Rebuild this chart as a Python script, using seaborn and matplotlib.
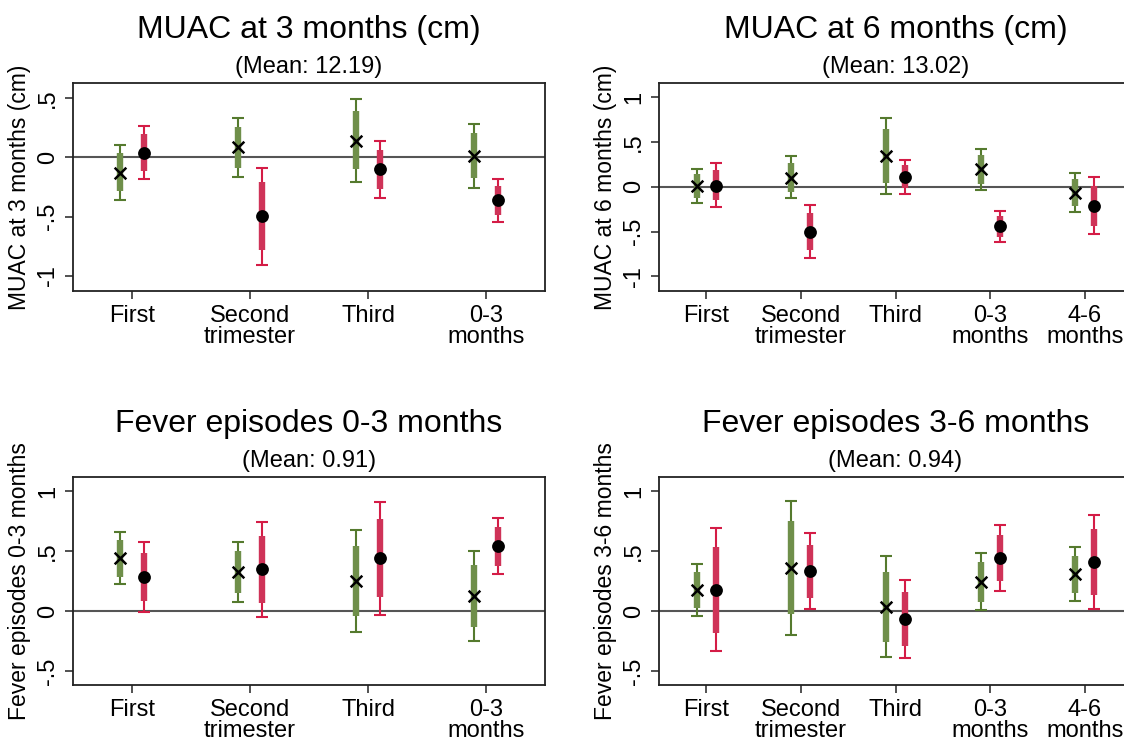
import numpy as np
import pandas as pd
import matplotlib
matplotlib.use("Agg")
import matplotlib.pyplot as plt
import seaborn as sns

# ─────────────────────────────────────────
# DATA (point estimate, thick interval, thin interval)
# ─────────────────────────────────────────

cats_4 = ["First", "Second\ntrimester", "Third", "0-3\nmonths"]
cats_5 = ["First", "Second\ntrimester", "Third", "0-3\nmonths", "4-6\nmonths"]

# MUAC at 3 months
m3_green     = [-0.127, 0.085, 0.141, 0.011]
m3_green_lo1 = [-0.285, -0.093, -0.101, -0.172]
m3_green_hi1 = [0.034, 0.254, 0.389, 0.203]
m3_green_lo2 = [-0.355, -0.163, -0.206, -0.254]
m3_green_hi2 = [0.104, 0.330, 0.493, 0.285]
m3_red       = [0.039, -0.493, -0.101, -0.361]
m3_red_lo1   = [-0.118, -0.783, -0.270, -0.487]
m3_red_hi1   = [0.197, -0.211, 0.062, -0.237]
m3_red_lo2   = [-0.186, -0.904, -0.346, -0.544]
m3_red_hi2   = [0.268, -0.085, 0.138, -0.180]

# MUAC at 6 months
m6_green     = [0.004, 0.101, 0.343, 0.194, -0.067]
m6_green_lo1 = [-0.127, -0.056, 0.048, 0.037, -0.212]
m6_green_hi1 = [0.142, 0.264, 0.641, 0.350, 0.086]
m6_green_lo2 = [-0.179, -0.130, -0.082, -0.034, -0.279]
m6_green_hi2 = [0.197, 0.339, 0.771, 0.417, 0.149]
m6_red       = [0.015, -0.499, 0.112, -0.436, -0.209]
m6_red_lo1   = [-0.149, -0.704, -0.015, -0.555, -0.432]
m6_red_hi1   = [0.186, -0.294, 0.242, -0.320, 0.011]
m6_red_lo2   = [-0.227, -0.793, -0.078, -0.611, -0.529]
m6_red_hi2   = [0.261, -0.205, 0.298, -0.264, 0.108]

# Fever episodes 0-3 months
f3_green     = [0.440, 0.326, 0.251, 0.125]
f3_green_lo1 = [0.287, 0.153, -0.042, -0.136]
f3_green_hi1 = [0.591, 0.504, 0.546, 0.387]
f3_green_lo2 = [0.223, 0.075, -0.173, -0.248]
f3_green_hi2 = [0.657, 0.579, 0.677, 0.504]
f3_red       = [0.284, 0.348, 0.440, 0.543]
f3_red_lo1   = [0.081, 0.070, 0.114, 0.379]
f3_red_hi1   = [0.487, 0.624, 0.766, 0.705]
f3_red_lo2   = [-0.011, -0.050, -0.031, 0.306]
f3_red_hi2   = [0.579, 0.747, 0.911, 0.780]

# Fever episodes 3-6 months
f6_green     = [0.178, 0.359, 0.033, 0.242, 0.309]
f6_green_lo1 = [0.028, -0.028, -0.262, 0.075, 0.153]
f6_green_hi1 = [0.329, 0.749, 0.329, 0.407, 0.462]
f6_green_lo2 = [-0.042, -0.198, -0.387, 0.006, 0.086]
f6_green_hi2 = [0.390, 0.919, 0.460, 0.482, 0.535]
f6_red       = [0.178, 0.331, -0.067, 0.446, 0.409]
f6_red_lo1   = [-0.184, 0.111, -0.295, 0.253, 0.134]
f6_red_hi1   = [0.538, 0.554, 0.156, 0.632, 0.682]
f6_red_lo2   = [-0.337, 0.017, -0.393, 0.170, 0.017]
f6_red_hi2   = [0.696, 0.655, 0.259, 0.716, 0.805]

panels = [
    dict(title="MUAC at 3 months (cm)", sub="(Mean: 12.19)", ylabel="MUAC at 3 months (cm)",
         cats=cats_4, yticks=[-1, -0.5, 0, 0.5], ylim=(-1.124, 0.628),
         g=(m3_green, m3_green_lo1, m3_green_hi1, m3_green_lo2, m3_green_hi2),
         r=(m3_red, m3_red_lo1, m3_red_hi1, m3_red_lo2, m3_red_hi2)),
    dict(title="MUAC at 6 months (cm)", sub="(Mean: 13.02)", ylabel="MUAC at 6 months (cm)",
         cats=cats_5, yticks=[-1, -0.5, 0, 0.5, 1], ylim=(-1.159, 1.159),
         g=(m6_green, m6_green_lo1, m6_green_hi1, m6_green_lo2, m6_green_hi2),
         r=(m6_red, m6_red_lo1, m6_red_hi1, m6_red_lo2, m6_red_hi2)),
    dict(title="Fever episodes 0-3 months", sub="(Mean: 0.91)", ylabel="Fever episodes 0-3 months",
         cats=cats_4, yticks=[-0.5, 0, 0.5, 1], ylim=(-0.618, 1.122),
         g=(f3_green, f3_green_lo1, f3_green_hi1, f3_green_lo2, f3_green_hi2),
         r=(f3_red, f3_red_lo1, f3_red_hi1, f3_red_lo2, f3_red_hi2)),
    dict(title="Fever episodes 3-6 months", sub="(Mean: 0.94)", ylabel="Fever episodes 3-6 months",
         cats=cats_5, yticks=[-0.5, 0, 0.5, 1], ylim=(-0.618, 1.122),
         g=(f6_green, f6_green_lo1, f6_green_hi1, f6_green_lo2, f6_green_hi2),
         r=(f6_red, f6_red_lo1, f6_red_hi1, f6_red_lo2, f6_red_hi2)),
]

GREEN_THICK, GREEN_THIN = "#6f8f4a", "#557a2e"
RED_THICK, RED_THIN = "#cf3358", "#d41c46"

def fmt_tick(v):
    if v == 0:
        return "0"
    s = f"{v:g}"
    return s.replace("0.", ".")

# ─────────────────────────────────────────
# FIGURE
# ─────────────────────────────────────────

sns.set_theme(style="ticks")
plt.rcParams["font.family"] = ["Liberation Sans", "DejaVu Sans"]
plt.rcParams.update({"text.color": "black", "axes.labelcolor": "black",
                     "xtick.color": "black", "ytick.color": "black"})

W, H = 1124, 741
fig = plt.figure(figsize=(W / 100, H / 100), dpi=100)

# axes boxes in pixels: left, top, right, bottom
boxes = [(73, 83, 545, 290.7), (659, 83, 1132, 290.7),
         (73, 476.7, 545, 685), (659, 476.7, 1132, 685)]

for p, (l, t, r, b) in zip(panels, boxes):
    ax = fig.add_axes([l / W, (H - b) / H, (r - l) / W, (b - t) / H])
    n = len(p["cats"])
    x = np.arange(1, n + 1)

    for vals, off, ck, cn, mk in [(p["g"], -0.1, GREEN_THICK, GREEN_THIN, "x"),
                                  (p["r"], 0.1, RED_THICK, RED_THIN, "o")]:
        est, lo1, hi1, lo2, hi2 = [np.array(v) for v in vals]
        xs = x + off
        ax.errorbar(xs, est, yerr=[est - lo2, hi2 - est], fmt="none",
                    ecolor=cn, elinewidth=1.5, capsize=4, capthick=1.5, zorder=2)
        ax.vlines(xs, lo1, hi1, color=ck, linewidth=4.6, zorder=3)
        df = pd.DataFrame({"x": xs, "y": est})
        if mk == "x":
            sns.scatterplot(data=df, x="x", y="y", ax=ax, marker="x", s=70,
                            color="black", linewidth=1.8, zorder=4, legend=False)
        else:
            sns.scatterplot(data=df, x="x", y="y", ax=ax, marker="o", s=85,
                            color="black", edgecolor="black", linewidth=0, zorder=4, legend=False)

    ax.axhline(0, color="#555555", linewidth=1.5, zorder=1)
    ax.set_xlim(0.5, n + 0.5)
    ax.set_ylim(*p["ylim"])
    ax.set_xticks(x)
    ax.set_xticklabels(p["cats"], fontsize=17, linespacing=0.95)
    ax.set_yticks(p["yticks"])
    ax.set_yticklabels([fmt_tick(v) for v in p["yticks"]], fontsize=17,
                       rotation=90, va="center")
    ax.tick_params(axis="both", length=6, width=1.2, color="#333333", pad=4)
    ax.set_xlabel("")
    ax.set_ylabel(p["ylabel"], fontsize=16.5)
    ax.yaxis.set_label_coords(-42 / (r - l), 0.5)
    for s in ax.spines.values():
        s.set_visible(True)
        s.set_color("#222222")
        s.set_linewidth(1.3)

    ax.text(0.5, 1.255, p["title"], transform=ax.transAxes, ha="center",
            va="center", fontsize=23)
    ax.text(0.5, 1.075, p["sub"], transform=ax.transAxes, ha="center",
            va="center", fontsize=17)

plt.savefig("out.png", dpi=100)
